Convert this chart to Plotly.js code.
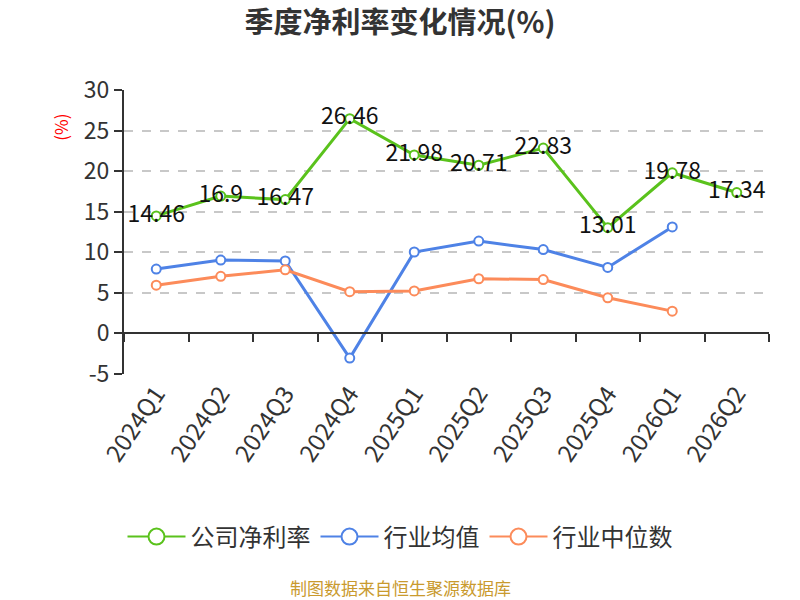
<!DOCTYPE html>
<html>
<head>
<meta charset="utf-8">
<script src="https://cdn.plot.ly/plotly-3.0.1.min.js"></script>
<style>
  body { margin: 0; background: #fff; }
  #chart { width: 800px; height: 600px; }
</style>
</head>
<body>
<div id="chart"></div>
<script>
// quarters on the x axis
var quarters = ["2024Q1", "2024Q2", "2024Q3", "2024Q4", "2025Q1", "2025Q2", "2025Q3", "2025Q4", "2026Q1", "2026Q2"];

// series values (%)
var companyRate = [14.46, 16.9, 16.47, 26.46, 21.98, 20.71, 22.83, 13.01, 19.78, 17.34];
var industryMean = [7.9, 9.0, 8.9, -3.1, 10.0, 11.35, 10.3, 8.1, 13.1, null];
var industryMedian = [5.9, 7.0, 7.8, 5.1, 5.2, 6.7, 6.6, 4.35, 2.7, null];

var yTicks = [-5, 0, 5, 10, 15, 20, 25, 30];

var green = "#5ac21c";
var blue = "#4e82e6";
var orange = "#fc8b5a";
var font = "Noto Sans CJK SC, Noto Sans, sans-serif";

function lineTrace(name, y, color, withText) {
  let t = {
    x: quarters,
    y: y,
    name: name,
    type: "scatter",
    mode: withText ? "lines+markers+text" : "lines+markers",
    line: { color: color, width: 3 },
    marker: { symbol: "circle", size: 9, color: "#fff", line: { color: color, width: 2 } },
    cliponaxis: false,
    showlegend: false,
    hoverinfo: "x+y",
  };
  if (withText) {
    t.text = y.map(function (v) { return String(v); });
    t.textposition = "middle center";
    t.textfont = { family: font, size: 23, color: "#111" };
  }
  return t;
}

// legend-only entries, bigger hollow circles like the original legend
function legendTrace(name, y, color, rank) {
  return {
    x: quarters,
    y: y.map(function () { return null; }),
    name: name,
    type: "scatter",
    mode: "lines+markers",
    line: { color: color, width: 2 },
    marker: { symbol: "circle", size: 16, color: "#fff", line: { color: color, width: 2 } },
    legendrank: rank,
    hoverinfo: "skip",
  };
}

var trace1 = lineTrace("公司净利率", companyRate, green, true);
var trace2 = lineTrace("行业均值", industryMean, blue, false);
var trace3 = lineTrace("行业中位数", industryMedian, orange, false);

// dummy trace on the second x axis so it draws the zero-level axis line with ticks
var axisTrace = {
  x: quarters,
  y: quarters.map(function () { return null; }),
  xaxis: "x2",
  type: "scatter",
  mode: "lines",
  showlegend: false,
  hoverinfo: "skip",
};

var data = [
  trace2, trace3, trace1, axisTrace,
  legendTrace("公司净利率", companyRate, green, 1),
  legendTrace("行业均值", industryMean, blue, 2),
  legendTrace("行业中位数", industryMedian, orange, 3),
];

// centre of the page expressed in plot-area fractions
var pageCenter = (400 - 124) / 645;

var layout = {
  width: 800,
  height: 600,
  paper_bgcolor: "#fff",
  plot_bgcolor: "#fff",
  font: { family: font, color: "#333" },
  margin: { l: 124, r: 31, t: 90, b: 226, pad: 0 },
  title: {
    text: "<b>季度净利率变化情况(%)</b>",
    x: 0.5,
    xanchor: "center",
    y: 0.962,
    yanchor: "middle",
    font: { family: font, size: 29, color: "#333" },
  },
  showlegend: true,
  legend: {
    orientation: "h",
    x: pageCenter,
    xanchor: "center",
    y: -0.574,
    yanchor: "middle",
    font: { family: font, size: 24, color: "#333" },
    itemwidth: 58,
    traceorder: "normal",
  },
  xaxis: {
    type: "category",
    range: [-0.5, 9.5],
    showline: false,
    showgrid: false,
    zeroline: false,
    ticks: "",
    tickangle: -56,
    tickfont: { family: font, size: 24, color: "#333" },
    fixedrange: true,
  },
  xaxis2: {
    type: "category",
    overlaying: "x",
    anchor: "free",
    position: 5 / 35,
    side: "bottom",
    range: [-0.5, 9.5],
    showline: true,
    linecolor: "#333",
    linewidth: 2,
    showgrid: false,
    zeroline: false,
    ticks: "outside",
    tickson: "boundaries",
    ticklen: 8,
    tickwidth: 2,
    tickcolor: "#333",
    showticklabels: false,
    fixedrange: true,
  },
  yaxis: {
    range: [-5.06, 30],
    tickvals: yTicks,
    ticktext: yTicks.map(function (v) { return String(v); }),
    showline: true,
    linecolor: "#333",
    linewidth: 2,
    ticks: "outside",
    ticklen: 8,
    tickwidth: 2,
    tickcolor: "#333",
    tickfont: { family: font, size: 23, color: "#333" },
    showgrid: true,
    gridcolor: "#c8c8c8",
    griddash: "dash",
    gridwidth: 1.5,
    zeroline: false,
    fixedrange: true,
  },
  annotations: [
    {
      text: "(%)",
      textangle: -90,
      xref: "paper",
      yref: "paper",
      x: -0.098,
      y: 0.87,
      xanchor: "center",
      yanchor: "middle",
      showarrow: false,
      font: { family: font, size: 17, color: "#ff0000" },
    },
    {
      text: "制图数据来自恒生聚源数据库",
      xref: "paper",
      yref: "paper",
      x: pageCenter,
      y: -0.753,
      xanchor: "center",
      yanchor: "middle",
      showarrow: false,
      font: { family: font, size: 17, color: "#c99a2e" },
    },
  ],
};

var config = { displayModeBar: false, responsive: false };

Plotly.newPlot("chart", data, layout, config);
</script>
</body>
</html>
